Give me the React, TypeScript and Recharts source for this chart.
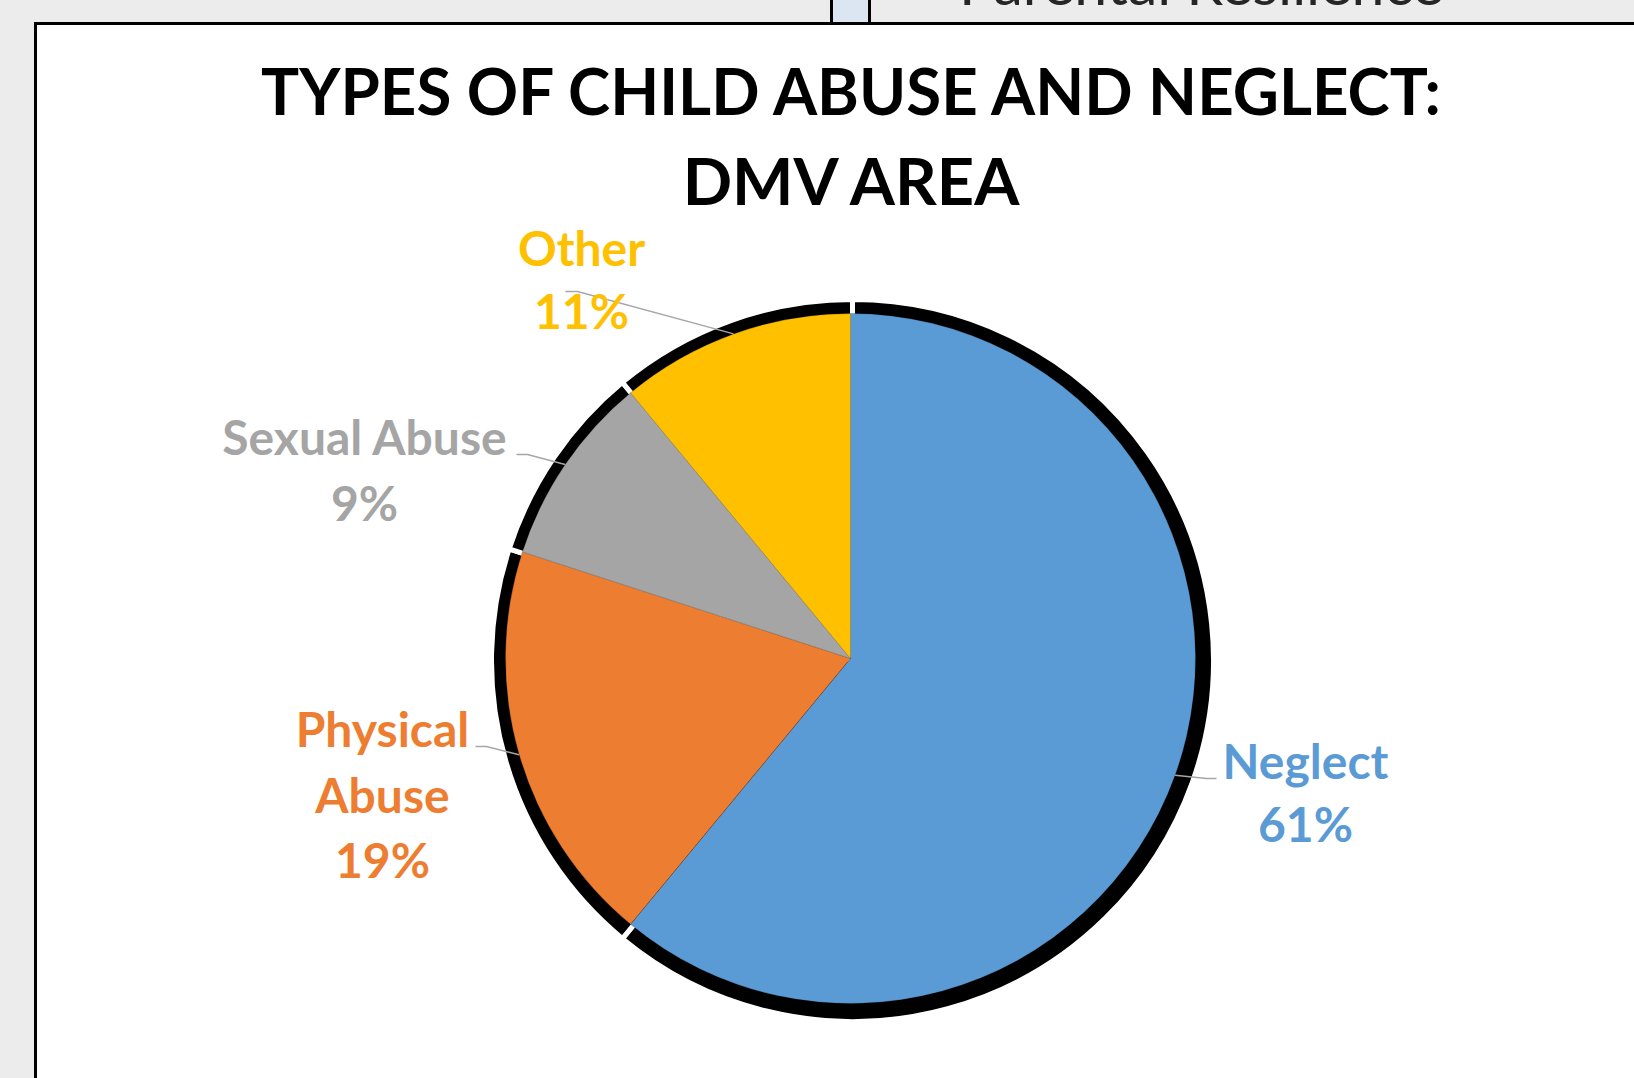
import { Cell, Pie, PieChart } from "recharts";

const categories = ["Neglect", "Physical Abuse", "Sexual Abuse", "Other"];
const shares = [61, 19, 9, 11];
const sliceColors = ["#5B9BD5", "#ED7D31", "#A5A5A5", "#FFC000"];
const titleLines = ["TYPES OF CHILD ABUSE AND NEGLECT:", "DMV AREA"];

const data = categories.map((name, i) => ({ name, value: shares[i] }));

const W = 1634;
const H = 1078;
const CX = 850.5;
const CY = 658.5;
const R = 345;
const RAD = Math.PI / 180;
const FONT = "Lato, 'Open Sans', sans-serif";

// Excel-style hand placed labels, offsets from the pie centre
const labelLayout = [
  { elbow: [356, 120], tail: 10, textX: 455, baselines: [120, 183], wrap: false },
  { elbow: [-364, 88], tail: -11, textX: -468, baselines: [88, 154, 219], wrap: true },
  { elbow: [-323, -204], tail: -11, textX: -486, baselines: [-204, -138], wrap: false },
  { elbow: [-273, -367], tail: -12, textX: -269, baselines: [-393, -330], wrap: false },
];

function SliceLabel(props: any) {
  const { cx, cy, midAngle, outerRadius, index, value } = props;
  const l = labelLayout[index];
  const name: string = categories[index];
  const sx = cx + outerRadius * Math.cos(-midAngle * RAD);
  const sy = cy + outerRadius * Math.sin(-midAngle * RAD);
  const ex = cx + l.elbow[0];
  const ey = cy + l.elbow[1];
  const lines = l.wrap ? [...name.split(" "), `${value}%`] : [name, `${value}%`];
  return (
    <g>
      <polyline
        points={`${sx},${sy} ${ex},${ey} ${ex + l.tail},${ey}`}
        fill="none"
        stroke="#a6a6a6"
        strokeWidth={1.5}
      />
      <text
        textAnchor="middle"
        fill={sliceColors[index]}
        fontFamily={FONT}
        fontWeight={700}
        fontSize={48}
      >
        {lines.map((t, j) => (
          <tspan key={j} x={cx + l.textX} y={cy + l.baselines[j]}>
            {t}
          </tspan>
        ))}
      </text>
    </g>
  );
}

export default function App() {
  return (
    <div
      style={{
        position: "absolute",
        left: 0,
        top: 0,
        width: W,
        height: H,
        overflow: "hidden",
        background: "#ececec",
      }}
    >
      {/* bit of the neighbouring slide element */}
      <div
        style={{
          position: "absolute",
          left: 830,
          top: -4,
          width: 35,
          height: 26,
          background: "#dce6f2",
          border: "3px solid #000",
        }}
      />
      <svg width={W} height={40} style={{ position: "absolute", left: 0, top: 0 }}>
        <text x={959} y={5} fontFamily={FONT} fontSize={59} fill="#262626">
          Parental Resilience
        </text>
      </svg>

      {/* chart frame */}
      <div
        style={{
          position: "absolute",
          left: 34,
          top: 22,
          width: 1640,
          height: 1100,
          background: "#fff",
          border: "3px solid #000",
        }}
      />

      <svg width={W} height={240} style={{ position: "absolute", left: 0, top: 0 }}>
        <text
          x={851}
          y={115}
          textAnchor="middle"
          fontFamily={FONT}
          fontWeight={700}
          fontSize={65}
          textLength={1180}
          lengthAdjust="spacingAndGlyphs"
          fill="#000"
        >
          {titleLines[0]}
        </text>
        <text
          x={851}
          y={205}
          textAnchor="middle"
          fontFamily={FONT}
          fontWeight={700}
          fontSize={65}
          fill="#000"
        >
          {titleLines[1]}
        </text>
      </svg>

      <div style={{ position: "absolute", left: 0, top: 0 }}>
        <PieChart width={W} height={H} margin={{ top: 0, right: 0, bottom: 0, left: 0 }}>
          {/* black drop shadow behind the slices */}
          <Pie
            data={data}
            dataKey="value"
            cx={CX + 2}
            cy={CY + 2}
            outerRadius={R + 16}
            startAngle={90}
            endAngle={-270}
            fill="#000"
            stroke="#fff"
            strokeWidth={5}
            isAnimationActive={false}
          />
          <Pie
            data={data}
            dataKey="value"
            nameKey="name"
            cx={CX}
            cy={CY}
            outerRadius={R}
            startAngle={90}
            endAngle={-270}
            stroke="rgba(0,0,0,0.25)"
            strokeWidth={0.75}
            label={SliceLabel}
            labelLine={false}
            isAnimationActive={false}
          >
            {data.map((d, i) => (
              <Cell key={d.name} fill={sliceColors[i]} />
            ))}
          </Pie>
        </PieChart>
      </div>
    </div>
  );
}
